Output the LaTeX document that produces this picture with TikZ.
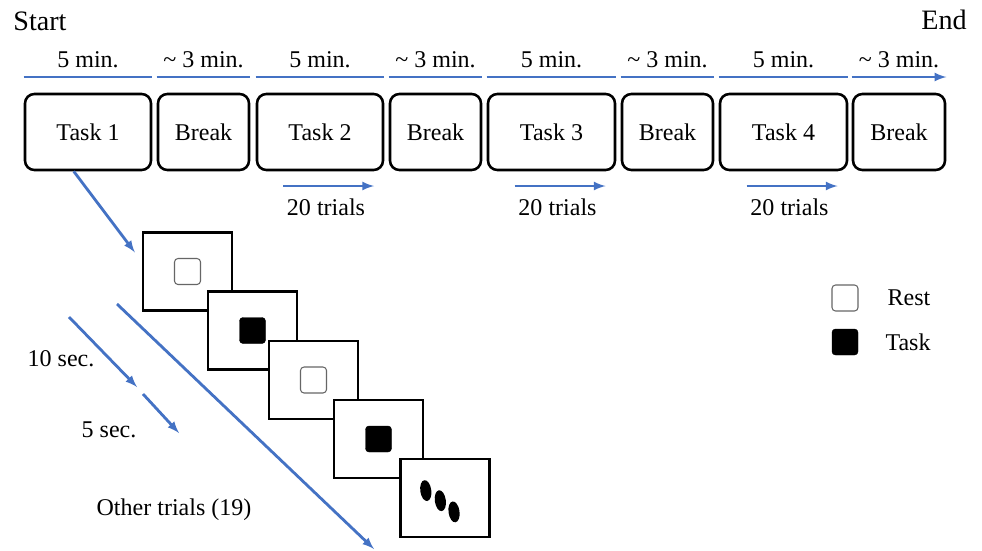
\documentclass[tikz,border=0pt]{standalone}
\usepackage{fontspec}
\setmainfont{Liberation Serif}
\usetikzlibrary{calc,arrows}

\definecolor{tblue}{RGB}{68,114,196}

\begin{document}
\begin{tikzpicture}[x=0.03cm,y=-0.03cm,>=latex,
  every node/.style={font=\fontsize{20.5}{24}\selectfont},
  stage/.style={draw,line width=2.2pt,rounded corners=8pt,minimum height=76*0.03cm,inner sep=0},
  flow/.style={draw=tblue,line width=2.4pt},
  screen/.style={draw,fill=white,line width=2pt,minimum width=89*0.03cm,minimum height=78*0.03cm,inner sep=0},
  restbox/.style={draw=black!60,line width=0.9pt,rounded corners=3pt,minimum size=26*0.03cm,inner sep=0},
  taskbox/.style={draw,fill=black,rounded corners=3pt,minimum size=26*0.03cm,inner sep=0}]

\useasboundingbox (0,0) rectangle (982,550);

\def \bary {77} % height of the time line
\def \ty {186}  % height of the trial arrows

\node[font=\fontsize{24}{28}\selectfont] (start) at (40,21) {Start};
\node[font=\fontsize{24}{28}\selectfont] (end) at (944,20) {End};

% stages of the session
\foreach \cx/\w/\lab/\dur/\tip [count=\i] in {
  88/126/Task 1/5 min./-, 203.5/91/Break/\textasciitilde\ 3 min./-,
  320/126/Task 2/5 min./-, 435.5/91/Break/\textasciitilde\ 3 min./-,
  551.5/127/Task 3/5 min./-, 667.5/91/Break/\textasciitilde\ 3 min./-,
  783.5/127/Task 4/5 min./-, 899/92/Break/\textasciitilde\ 3 min./->}
{
  \node[stage, minimum width=\w*0.03cm] (st\i) at (\cx,132) {\lab};
  \node (dur\i) at (\cx,60) {\dur};
  \draw[flow,\tip] (st\i.west |- 0,\bary) -- (st\i.east |- 0,\bary);
}

% 20 trials under each task
\foreach \i in {3,5,7}
{
  \coordinate (tr\i a) at ($(st\i.center |- 0,\ty)+(-37,0)$);
  \coordinate (tr\i b) at ($(st\i.center |- 0,\ty)+(54,0)$);
  \draw[flow,->] (tr\i a) -- (tr\i b);
  \node (trial\i) at ($(st\i.center |- 0,207)+(6,0)$) {20 trials};
}

% screens of one trial
\foreach \x/\y [count=\k] in {187.5/271.5, 252.5/330.5, 313.5/380, 378.5/439, 445/498}
  \node[screen] (sc\k) at (\x,\y) {};

\node[restbox] (ic1) at (sc1) {};
\node[taskbox] (ic2) at (sc2) {};
\node[restbox] (ic3) at (sc3) {};
\node[taskbox] (ic4) at (sc4) {};
\foreach \dx/\dy in {-18/-10, -5/2, 7/15}
  \fill[rotate around={8:($(sc5)+(\dx,\dy)$)}] ($(sc5)+(\dx,\dy)$) ellipse [x radius=5.5, y radius=10.5];

\coordinate (in1) at ($(sc1.north west)+(-7,21)$);
\draw[flow,->] (st1.250) -- (in1);

% durations
\coordinate (a10) at (69,317);
\coordinate (b10) at (137,387);
\coordinate (a5) at (143,394);
\coordinate (b5) at (179,433);
\coordinate (aall) at (117,304);
\coordinate (ball) at (374,549);
\draw[flow,->] (a10) -- (b10);
\draw[flow,->] (a5) -- (b5);
\draw[flow,->] (aall) -- (ball);

\node (sec10) at (61,359) {10 sec.};
\node (sec5) at (109,430) {5 sec.};
\node (other) at (174,510) {Other trials (19)};

% legend
\node[restbox] (legrest) at (845,298) {};
\node (rest) at (909,298) {Rest};
\node[taskbox] (legtask) at (845,342) {};
\node (task) at (908,342) {Task};

\end{tikzpicture}
\end{document}
